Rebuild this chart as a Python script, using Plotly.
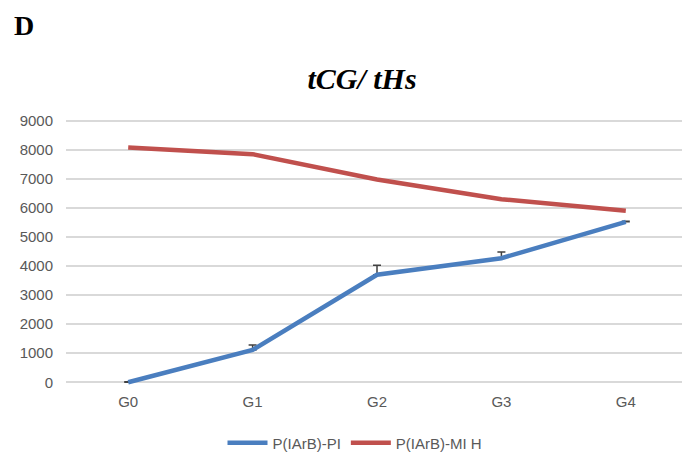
import plotly.graph_objects as go

groups = ["G0", "G1", "G2", "G3", "G4"]
pi_vals = [0, 1110, 3700, 4270, 5520]
pi_err = [20, 170, 330, 210, 20]
mih_vals = [8080, 7850, 6980, 6300, 5900]

fig = go.Figure()
fig.add_trace(go.Scatter(
    x=groups, y=pi_vals, mode="lines", name="P(IArB)-PI",
    line=dict(color="#4a7ebf", width=4.5),
    error_y=dict(type="data", array=pi_err, arrayminus=[0] * 5, symmetric=False,
                 color="#404040", thickness=1.5, width=4),
))
fig.add_trace(go.Scatter(
    x=groups, y=mih_vals, mode="lines", name="P(IArB)-MI H",
    line=dict(color="#c0504d", width=4.5),
))

W, H = 690, 459
OFF = 8  # page body margin shifts the figure by 8px
L, R, T, B = 66 - OFF, 2 + OFF, 112 - OFF, 68 + OFF

fig.update_layout(
    width=W, height=H,
    margin=dict(l=L, r=R, t=T, b=B, autoexpand=False),
    paper_bgcolor="white", plot_bgcolor="white",
    font=dict(family="Liberation Sans", size=15, color="#595959"),
    title=dict(text="tCG/ tHs", x=(362 - OFF) / W, xref="container", xanchor="center",
               y=1 - (78 - OFF) / H, yref="container", yanchor="middle",
               font=dict(family="Liberation Serif", size=30, color="black",
                         style="italic", weight="bold")),
    showlegend=True,
    legend=dict(orientation="h", x=(355 - OFF) / W, xanchor="center", xref="container",
                y=1 - (443 - OFF) / H, yanchor="middle", yref="container",
                font=dict(size=15, color="#595959"), itemwidth=40),
)
# "D" panel label, pixel position converted to plot-area fractions
fig.add_annotation(text="<b>D</b>", x=(12 - OFF - L) / (W - L - R),
                   y=(H - (25 - OFF) - B) / (H - T - B),
                   xref="paper", yref="paper", showarrow=False,
                   xanchor="left", yanchor="middle",
                   font=dict(family="Liberation Serif", size=28, color="black"))

fig.update_xaxes(range=[-0.5, 4.5], showgrid=False, showline=False,
                 ticks="", tickfont=dict(size=15))
fig.update_yaxes(range=[-300, 9300], tickvals=list(range(0, 9001, 1000)),
                 showgrid=True, gridcolor="#d9d9d9", gridwidth=1.5,
                 zeroline=True, zerolinecolor="#d9d9d9", zerolinewidth=1.5,
                 showline=False, ticks="", ticklabelstandoff=12,
                 tickfont=dict(size=15))

fig.write_html("out.html")
